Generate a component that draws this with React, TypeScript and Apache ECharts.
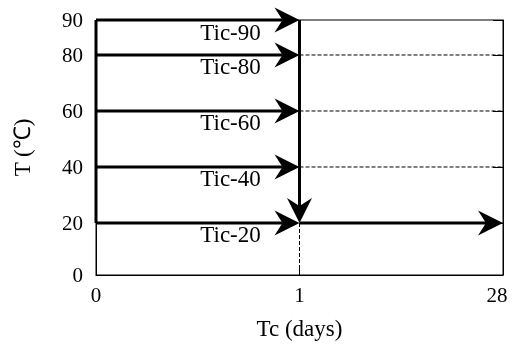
import React, { useEffect, useRef } from "react";
import * as echarts from "echarts";

// ---- data ----
const xDays = [0, 1, 28];
const yTicks = [0, 20, 40, 60, 80, 90];
const ticTemps = [90, 80, 60, 40, 20];
const curingTemp = 20;
const heatEndDay = 1;
const curingEndDay = 28;
const dashedTemps = [80, 60, 40];
const xName = "Tc (days)";
const yName = "T (℃)";

// schematic (broken) temperature axis: segment weights between breaks
const yBreaks = [0, 20, 80, 90];
const yWeights = [0.929, 1, 1.25];
function warp(t: number): number {
  let v = 0;
  for (let i = 0; i < yWeights.length; i++) {
    const a = yBreaks[i];
    const b = yBreaks[i + 1];
    if (t <= a) break;
    v += (Math.min(t, b) - a) * yWeights[i];
  }
  return v;
}
const xi = (d: number) => xDays.indexOf(d);

type Seg = { from: [number, number]; to: [number, number]; kind: "arrow" | "bar" | "dash"; label?: string };

const segs: Seg[] = [
  ...dashedTemps.map((t) => ({ from: [heatEndDay, t] as [number, number], to: [curingEndDay, t] as [number, number], kind: "dash" as const })),
  { from: [heatEndDay, 0], to: [heatEndDay, curingTemp], kind: "dash" },
  { from: [0, curingTemp], to: [0, ticTemps[0]], kind: "bar" },
  ...ticTemps.map((t) => ({ from: [0, t] as [number, number], to: [heatEndDay, t] as [number, number], kind: "arrow" as const, label: "Tic-" + t })),
  { from: [heatEndDay, ticTemps[0]], to: [heatEndDay, curingTemp], kind: "arrow" },
  { from: [heatEndDay, curingTemp], to: [curingEndDay, curingTemp], kind: "arrow" },
];

const FONT = '"Liberation Serif", "Times New Roman", serif';

export default function App() {
  const ref = useRef<HTMLDivElement>(null);
  useEffect(() => {
    if (!ref.current) return;
    const chart = echarts.init(ref.current, null, { renderer: "svg" });
    const yMax = warp(yTicks[yTicks.length - 1]);
    const yVals = yTicks.map(warp);
    const yFmt = (v: number) => {
      const i = yTicks.findIndex((t) => Math.abs(warp(t) - v) < 1e-6);
      return i >= 0 ? String(yTicks[i]) : "";
    };
    const option: any = {
      animation: false,
      grid: { left: 96, right: 9, top: 20, bottom: 74, show: true, borderColor: "#000", borderWidth: 1, backgroundColor: "transparent" },
      xAxis: {
        type: "value",
        min: 0,
        max: xDays.length - 1,
        interval: 1,
        axisLine: { show: true, lineStyle: { color: "#000", width: 1 } },
        axisTick: { show: true, inside: true, length: 10, lineStyle: { color: "#000", width: 1 } },
        splitLine: { show: false },
        axisLabel: {
          color: "#000",
          fontSize: 21,
          fontFamily: FONT,
          margin: 9,
          formatter: (v: number) => (v === xDays.length - 1 ? "{r|" + xDays[v] + "}" : String(xDays[v])),
          rich: { r: { padding: [0, 12, 0, 0], fontSize: 21, fontFamily: FONT, color: "#000" } },
        },
        name: xName,
        nameLocation: "middle",
        nameGap: 42,
        nameTextStyle: { color: "#000", fontSize: 23, fontFamily: FONT },
      },
      yAxis: [
        {
          type: "value",
          min: 0,
          max: yMax,
          axisLine: { show: true, lineStyle: { color: "#000", width: 1 } },
          axisTick: { show: true, inside: true, length: 10, customValues: yVals, lineStyle: { color: "#000" } },
          splitLine: { show: false },
          axisLabel: { color: "#000", fontSize: 21, fontFamily: FONT, margin: 13, customValues: yVals, formatter: yFmt },
          name: yName,
          nameLocation: "middle",
          nameRotate: 90,
          nameGap: 62,
          nameTextStyle: { color: "#000", fontSize: 23, fontFamily: FONT },
        },
        {
          type: "value",
          position: "right",
          min: 0,
          max: yMax,
          axisLine: { show: true, lineStyle: { color: "#000", width: 1 } },
          axisTick: { show: true, inside: true, length: 10, customValues: yVals, lineStyle: { color: "#000" } },
          splitLine: { show: false },
          axisLabel: { show: false },
        },
      ],
      series: [
        {
          type: "custom",
          coordinateSystem: "cartesian2d",
          clip: false,
          encode: { x: [0, 2], y: [1, 3] },
          data: segs.map((s) => [xi(s.from[0]), warp(s.from[1]), xi(s.to[0]), warp(s.to[1])]),
          renderItem: (params: any, api: any) => {
            const s = segs[params.dataIndex];
            const p0 = api.coord([api.value(0), api.value(1)]);
            const p1 = api.coord([api.value(2), api.value(3)]);
            const children: any[] = [];
            if (s.kind === "dash") {
              children.push({
                type: "line",
                shape: { x1: p0[0], y1: p0[1], x2: p1[0], y2: p1[1] },
                style: { stroke: "#000", lineWidth: 1, lineDash: [4, 2] },
              });
            } else if (s.kind === "bar") {
              children.push({
                type: "line",
                shape: { x1: p0[0], y1: p0[1], x2: p1[0], y2: p1[1] },
                style: { stroke: "#000", lineWidth: 3 },
              });
            } else {
              const dx = p1[0] - p0[0];
              const dy = p1[1] - p0[1];
              const L = Math.hypot(dx, dy) || 1;
              const ux = dx / L;
              const uy = dy / L;
              const nx = -uy;
              const ny = ux;
              const len = 25;
              const half = 12.5;
              const notch = 17;
              const bx = p1[0] - ux * len;
              const by = p1[1] - uy * len;
              const mx = p1[0] - ux * notch;
              const my = p1[1] - uy * notch;
              children.push({
                type: "line",
                shape: { x1: p0[0], y1: p0[1], x2: mx, y2: my },
                style: { stroke: "#000", lineWidth: 3 },
              });
              children.push({
                type: "polygon",
                shape: { points: [[p1[0], p1[1]], [bx + nx * half, by + ny * half], [mx, my], [bx - nx * half, by - ny * half]] },
                style: { fill: "#000" },
              });
              if (s.label) {
                children.push({
                  type: "text",
                  x: p1[0] - 69,
                  y: p1[1] + 12,
                  style: { text: s.label, fill: "#000", font: "23px " + FONT, align: "center", verticalAlign: "middle" },
                });
              }
            }
            return { type: "group", children };
          },
        },
      ],
    };
    chart.setOption(option);
    return () => chart.dispose();
  }, []);
  return <div ref={ref} style={{ position: "fixed", left: 0, top: 0, width: 512, height: 349 }} />;
}
